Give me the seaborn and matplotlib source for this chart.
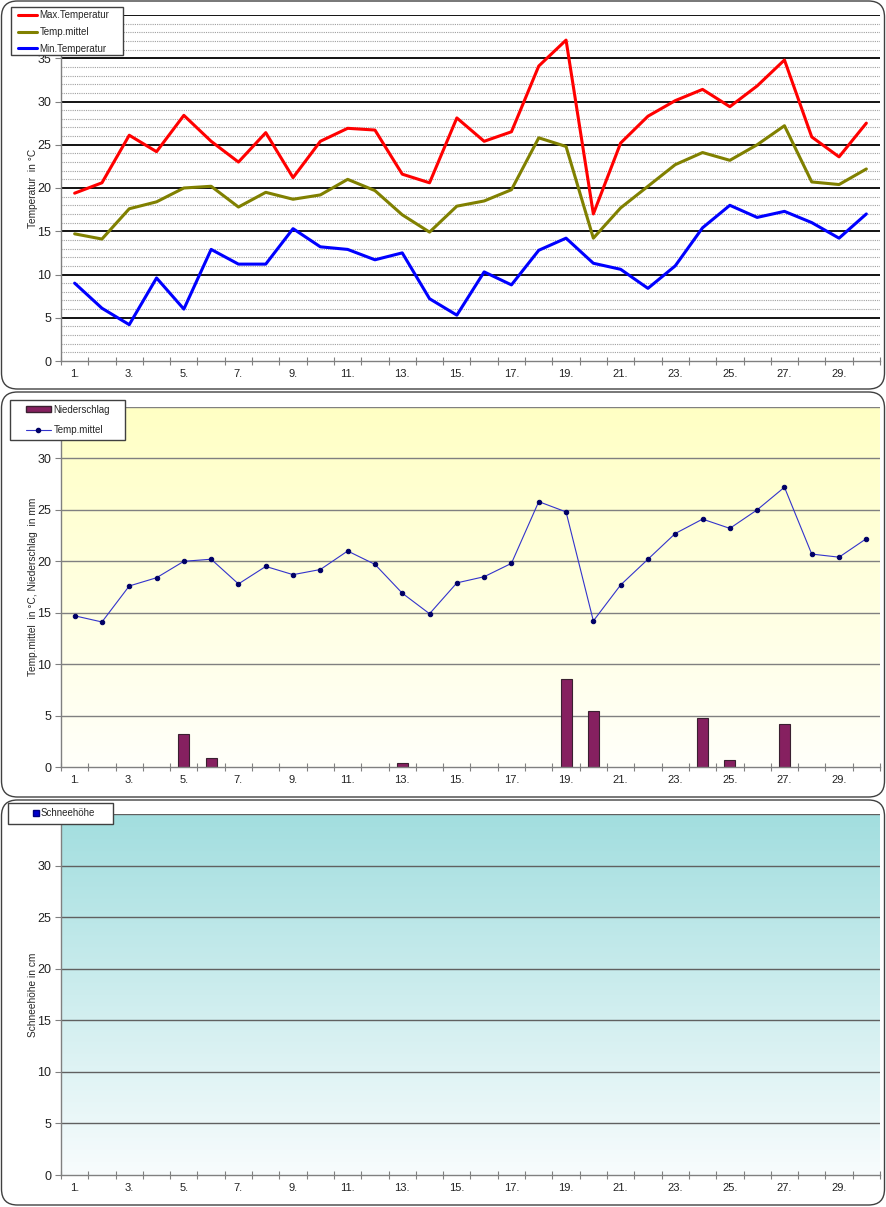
import numpy as np
import pandas as pd
import matplotlib
matplotlib.use("Agg")
import matplotlib.pyplot as plt
import seaborn as sns
from matplotlib.patches import FancyBboxPatch, Patch, Rectangle
from matplotlib.lines import Line2D
from matplotlib.colors import LinearSegmentedColormap

days = list(range(1, 31))
tmax = [19.4, 20.6, 26.1, 24.2, 28.4, 25.4, 23.0, 26.4, 21.2, 25.4,
        26.9, 26.7, 21.6, 20.6, 28.1, 25.4, 26.5, 34.1, 37.1, 17.0,
        25.2, 28.3, 30.1, 31.4, 29.4, 31.8, 34.8, 25.9, 23.6, 27.5]
tmean = [14.7, 14.1, 17.6, 18.4, 20.0, 20.2, 17.8, 19.5, 18.7, 19.2,
         21.0, 19.7, 16.9, 14.9, 17.9, 18.5, 19.8, 25.8, 24.8, 14.2,
         17.7, 20.2, 22.7, 24.1, 23.2, 25.0, 27.2, 20.7, 20.4, 22.2]
tmin = [9.0, 6.1, 4.2, 9.6, 6.0, 12.9, 11.2, 11.2, 15.3, 13.2,
        12.9, 11.7, 12.5, 7.2, 5.3, 10.3, 8.8, 12.8, 14.2, 11.3,
        10.6, 8.4, 11.0, 15.4, 18.0, 16.6, 17.3, 16.0, 14.2, 17.0]
precip = [0, 0, 0, 0, 3.2, 0.9, 0, 0, 0, 0,
          0, 0, 0.35, 0, 0, 0, 0, 0, 8.6, 5.4,
          0, 0, 0, 4.8, 0.65, 0, 4.2, 0, 0, 0]
snow = [0] * 30
xlabels = [f"{d}." for d in days if d % 2 == 1]

df = pd.DataFrame({"day": days, "tmax": tmax, "tmean": tmean, "tmin": tmin,
                   "precip": precip, "snow": snow})

sns.set_theme(style="white")
plt.rcParams['font.family'] = ['Liberation Sans', 'DejaVu Sans']

W, H = 887, 1207
fig = plt.figure(figsize=(W / 100, H / 100), dpi=100)

def fx(px):
    return px / W

def fy(py):
    return 1 - py / H

def frame(ax, x0, y0, x1, y1):
    r = Rectangle((fx(x0), fy(y1)), fx(x1 - x0), (y1 - y0) / H,
                  transform=fig.transFigure, facecolor="white",
                  edgecolor="#404040", linewidth=1.0, zorder=8,
                  clip_on=False)
    ax.add_artist(r)

# panel frames
for (y0, y1) in [(1, 389), (392, 797), (800, 1205)]:
    p = FancyBboxPatch((fx(1.5), fy(y1)), fx(883), (y1 - y0) / H,
                       boxstyle="round,pad=0,rounding_size=0.018",
                       transform=fig.transFigure, facecolor="white",
                       edgecolor="#404040", linewidth=1.0, zorder=-5,
                       mutation_aspect=W / H)
    fig.patches.append(p)

left = fx(61)
width = fx(880) - fx(61)

ax1 = fig.add_axes([left, fy(361), width, (361 - 15) / H])
ax2 = fig.add_axes([left, fy(767), width, (767 - 407) / H])
ax3 = fig.add_axes([left, fy(1175), width, (1175 - 814) / H])

def style_x(ax):
    ax.set_xlim(0.5, 30.5)
    ax.set_xticks(np.arange(0.5, 31, 1))
    ax.set_xticklabels([])
    ax.set_xticks([d for d in days if d % 2 == 1], minor=True)
    ax.set_xticklabels(xlabels, minor=True)
    ax.tick_params(axis="x", which="major", direction="inout", length=6,
                   width=0.8, color="#808080", bottom=True)
    ax.tick_params(axis="x", which="minor", length=0, pad=6, labelsize=8,
                   labelcolor="#222222")
    ax.tick_params(axis="y", which="major", direction="out", length=4,
                   width=0.8, color="#808080", left=True, labelsize=9,
                   labelcolor="#222222", pad=3)
    for s in ["top", "right"]:
        ax.spines[s].set_visible(False)
    for s in ["left", "bottom"]:
        ax.spines[s].set_color("#808080")
        ax.spines[s].set_linewidth(1.0)
    ax.set_xlabel("")

def ylab(ax, text, xpx):
    ax.set_ylabel(text, fontsize=7.3)
    ax.yaxis.set_label_coords((xpx - 61) / (880 - 61), 0.5)

# ---- Panel 1: temperatures
ax1.set_facecolor("white")
ax1.set_ylim(0, 40)
ax1.set_yticks(range(0, 40, 5))
for v in range(1, 40):
    if v % 5:
        ax1.axhline(v, color="#a0a0a0", lw=0.8, ls=(0, (1, 1)), zorder=1)
for v in range(5, 41, 5):
    ax1.axhline(v, color="black", lw=1.3, zorder=1)
sns.lineplot(data=df, x="day", y="tmax", ax=ax1, color="#FF0000", lw=2.2,
             label="Max.Temperatur", zorder=3)
sns.lineplot(data=df, x="day", y="tmean", ax=ax1, color="#808000", lw=2.2,
             label="Temp.mittel", zorder=3)
sns.lineplot(data=df, x="day", y="tmin", ax=ax1, color="#0000FF", lw=2.2,
             label="Min.Temperatur", zorder=3)
style_x(ax1)
ylab(ax1, "Temperatur  in °C", 38)
frame(ax1, 11, 7, 123, 55)
leg1 = ax1.legend(loc="upper left", bbox_to_anchor=(fx(18), fy(10.5)),
                  bbox_transform=fig.transFigure, frameon=False,
                  borderaxespad=0, borderpad=0, fontsize=7, handlelength=2.0,
                  labelspacing=0.68, handletextpad=0.2)
leg1.set_zorder(9)

# ---- Panel 2: precipitation + mean temp
ylw = LinearSegmentedColormap.from_list("ylw", ["#FFFFFA", "#FFFFC4"])
grad = np.linspace(0, 1, 256).reshape(-1, 1)
ax2.imshow(grad, aspect="auto", cmap=ylw, origin="lower",
           extent=(0.5, 30.5, 0, 35), zorder=0)
ax2.set_ylim(0, 35)
ax2.set_yticks(range(0, 35, 5))
for v in range(5, 36, 5):
    ax2.axhline(v, color="#808080", lw=1.0, zorder=1)
pdf = df[df["precip"] > 0]
sns.barplot(data=pdf, x="day", y="precip", ax=ax2, native_scale=True,
            width=0.4, color="#862060", edgecolor="#3a2030", linewidth=0.8,
            saturation=1, zorder=2)
sns.lineplot(data=df, x="day", y="tmean", ax=ax2, color="#3333CC", lw=0.8,
             marker="o", markersize=3.2, markerfacecolor="#000066",
             markeredgecolor="#000066", zorder=3)
style_x(ax2)
ylab(ax2, "Temp.mittel  in °C, Niederschlag  in mm", 38)
h2 = [Patch(facecolor="#862060", edgecolor="#3a2030"),
      Line2D([0], [0], color="#3333CC", lw=0.8, marker="o", markersize=3,
             markerfacecolor="#000066", markeredgecolor="#000066")]
frame(ax2, 10, 400, 125, 440)
leg2 = ax2.legend(h2, ["Niederschlag", "Temp.mittel"], loc="upper left",
                  bbox_to_anchor=(fx(26), fy(404.5)),
                  bbox_transform=fig.transFigure, frameon=False,
                  borderaxespad=0, borderpad=0, fontsize=7, handlelength=2.55,
                  handleheight=0.5, labelspacing=1.05, handletextpad=0.3)
leg2.set_zorder(9)

# ---- Panel 3: snow
teal = LinearSegmentedColormap.from_list("teal", ["#F8FCFD", "#A2DEDF"])
ax3.imshow(grad, aspect="auto", cmap=teal, origin="lower",
           extent=(0.5, 30.5, 0, 35), zorder=0)
ax3.set_ylim(0, 35)
ax3.set_yticks(range(0, 35, 5))
for v in range(5, 36, 5):
    ax3.axhline(v, color="#606060", lw=1.0, zorder=1)
sdf = df[df["snow"] > 0]
if len(sdf):
    sns.barplot(data=sdf, x="day", y="snow", ax=ax3, native_scale=True,
                width=0.4, color="#0000CC", saturation=1, zorder=2)
style_x(ax3)
ylab(ax3, "Schneehöhe in cm", 38)
h3 = [Line2D([0], [0], ls="none", marker="s", markersize=4.3,
             markerfacecolor="#0000CC", markeredgecolor="#000080")]
frame(ax3, 8, 803, 113, 824)
leg3 = ax3.legend(h3, ["Schneehöhe"], loc="upper left",
                  bbox_to_anchor=(fx(33), fy(808.5)),
                  bbox_transform=fig.transFigure, frameon=False,
                  borderaxespad=0, borderpad=0, fontsize=7, handlelength=0.6,
                  handletextpad=0.15)
leg3.set_zorder(9)

fig.savefig("out.png", dpi=100)
